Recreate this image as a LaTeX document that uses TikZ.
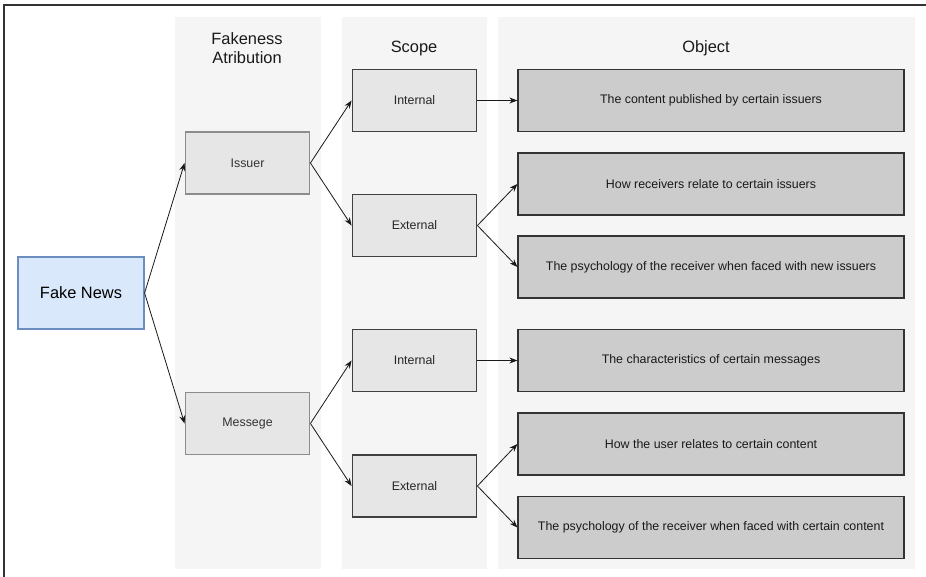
\documentclass[tikz,border=0pt]{standalone}
\usepackage{fontspec}
\setmainfont{Liberation Sans}
\usepackage{xcolor}
\usetikzlibrary{arrows.meta,positioning}
\definecolor{laneGray}{HTML}{F5F5F5}
\definecolor{boxGray}{HTML}{E6E6E6}
\definecolor{objGray}{HTML}{CCCCCC}
\definecolor{fnBlue}{HTML}{DAE8FC}
\definecolor{fnBorder}{HTML}{6C8EBF}

\begin{document}
\begin{tikzpicture}[x=0.75pt, y=-0.75pt, font=\fontsize{9.3}{11}\selectfont,
  lane/.style={fill=laneGray, draw=none, inner sep=0pt, anchor=north west},
  head/.style={font=\fontsize{12.3}{14.5}\selectfont, align=center, text=black!90},
  attr/.style={draw=black!45, fill=boxGray, line width=0.9pt, minimum width=93.5pt, minimum height=46.5pt, inner sep=0pt, text=black!80},
  scopebox/.style={draw=black!75, fill=boxGray, line width=0.9pt, minimum width=93.5pt, minimum height=46.5pt, inner sep=0pt, text=black!85},
  objbox/.style={draw=black!80, fill=objGray, line width=0.9pt, minimum width=289.5pt, minimum height=46.5pt, inner sep=0pt, text=black!90},
  arr/.style={-{Stealth[length=6pt, width=4.5pt]}, line width=0.6pt, black!90}]
  \useasboundingbox (0,0) rectangle (926,576);
  % outer frame, cut off on the right and at the bottom
  \draw[black!80, line width=1.2pt] (4,600) -- (4,5) -- (950,5);

  % swimlanes
  \node[lane, minimum width=109.5pt, minimum height=414pt] (laneA) at (175,17) {};
  \node[lane, minimum width=108.75pt, minimum height=414pt] (laneB) at (342,17) {};
  \node[lane, minimum width=312.75pt, minimum height=414pt] (laneC) at (498,17) {};
  \node[head] (hA) at (247,48) {Fakeness\\Atribution};
  \node[head] (hB) at (414,48) {Scope};
  \node[head] (hC) at (706,48) {Object};

  % boxes
  \node[draw=fnBorder, fill=fnBlue, line width=0.9pt, minimum width=94.5pt, minimum height=54pt, inner sep=0pt, font=\fontsize{12.3}{14.5}\selectfont] (fn) at (81,293) {Fake News};
  \node[attr] (iss) at (247.5,163) {Issuer};
  \node[attr] (msg) at (247.5,423.5) {Messege};
  \node[scopebox] (int1) at (414.5,100.5) {Internal};
  \node[scopebox] (ext1) at (414.5,225.5) {External};
  \node[scopebox] (int2) at (414.5,360.5) {Internal};
  \node[scopebox] (ext2) at (414.5,486) {External};
  \node[objbox] (o1) at (711,100.5) {The content published by certain issuers};
  \node[objbox] (o2) at (711,184) {How receivers relate to certain issuers};
  \node[objbox] (o3) at (711,267) {The psychology of the receiver when faced with new issuers};
  \node[objbox] (o4) at (711,360.5) {The characteristics of certain messages};
  \node[objbox] (o5) at (711,444) {How the user relates to certain content};
  \node[objbox] (o6) at (711,527.5) {The psychology of the receiver when faced with certain content};

  % connectors
  \draw[arr] (fn.east) -- (iss.west);
  \draw[arr] (fn.east) -- (msg.west);
  \draw[arr] (iss.east) -- (int1.west);
  \draw[arr] (iss.east) -- (ext1.west);
  \draw[arr] (msg.east) -- (int2.west);
  \draw[arr] (msg.east) -- (ext2.west);
  \draw[arr] (int1.east) -- (o1.west);
  \draw[arr] (ext1.east) -- (o2.west);
  \draw[arr] (ext1.east) -- (o3.west);
  \draw[arr] (int2.east) -- (o4.west);
  \draw[arr] (ext2.east) -- (o5.west);
  \draw[arr] (ext2.east) -- (o6.west);
\end{tikzpicture}
\end{document}
